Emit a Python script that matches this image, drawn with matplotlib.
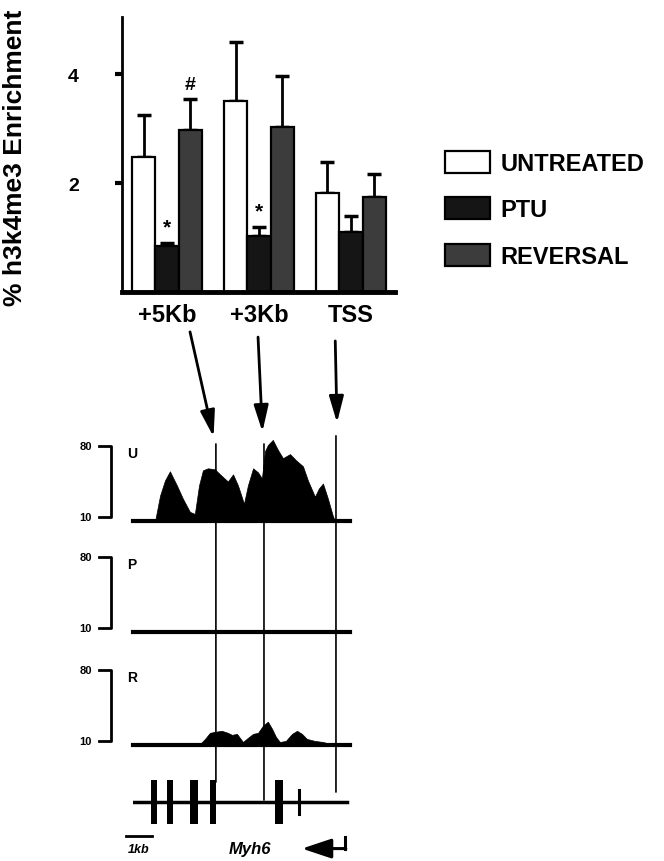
import matplotlib.pyplot as plt
from matplotlib.patches import ConnectionPatch
import numpy as np

plt.rcParams['font.family'] = ['Liberation Sans', 'DejaVu Sans']
plt.rcParams['font.weight'] = 'bold'

# bar chart: % h3k4me3 enrichment
regions = ['+5Kb', '+3Kb', 'TSS']
groups = ['UNTREATED', 'PTU', 'REVERSAL']
untreated = [2.48, 3.50, 1.81]
untreated_err = [0.77, 1.09, 0.57]
ptu = [0.85, 1.03, 1.10]
ptu_err = [0.05, 0.16, 0.29]
reversal = [2.97, 3.03, 1.74]
reversal_err = [0.57, 0.94, 0.43]
ptu_sig = ['*', '*', '']
reversal_sig = ['#', '', '']
bar_colors = ['white', '#151515', '#3c3c3c']

# ChIP-seq tracks (position in kb, read scale 10-80)
u_pos = [0.85, 1.04, 1.23, 1.42, 1.69, 1.92, 2.19, 2.38, 2.54, 2.69, 2.88, 3.15,
         3.35, 3.65, 3.85, 4.04, 4.27, 4.42, 4.62, 4.81, 4.96, 5.08, 5.19, 5.38,
         5.58, 5.77, 6.04, 6.27, 6.54, 6.73, 7.00, 7.15, 7.31, 7.50, 7.69, 7.77]
u_val = [6, 31, 46, 55, 41, 28, 15, 13, 41, 56, 58, 57,
         52, 45, 52, 41, 23, 41, 58, 54, 48, 75, 81, 86,
         76, 68, 72, 66, 60, 46, 30, 38, 43, 28, 11, 6]
p_pos = [0.0, 8.3]
p_val = [6, 6]
r_pos = [1.23, 1.35, 1.92, 2.00, 2.58, 2.77, 2.96, 3.15, 3.42, 3.65, 3.81, 4.00,
         4.23, 4.42, 4.62, 4.81, 5.00, 5.19, 5.35, 5.50, 5.65, 5.88, 6.12, 6.31,
         6.50, 6.69, 7.00, 7.31, 7.58, 7.96]
r_val = [6, 8, 8, 6, 7, 12, 18, 19, 20, 18, 16, 17,
         9, 13, 17, 18, 25, 29, 22, 14, 9, 10, 17, 20,
         17, 12, 10, 9, 7, 6]
track_names = ['U', 'P', 'R']

# Myh6 gene model
mark_kb = [3.19, 5.04, 7.81]      # +5Kb, +3Kb, TSS
exon_kb = [0.81, 1.42, 2.35, 3.08, 5.62]
exon_w = [0.22, 0.25, 0.32, 0.25, 0.32]
small_exon_kb = 6.38
gene_start, gene_end = -0.04, 8.23
tss_arrow_kb = [8.15, 6.50]

W, H = 664, 862
fig = plt.figure(figsize=(W / 100, H / 100), dpi=100)


def px_axes(left, top, right, bottom):
    return fig.add_axes([left / W, 1 - bottom / H, (right - left) / W, (bottom - top) / H])


# ---------------- bar chart ----------------
ax = px_axes(122, 18, 395, 293)
x = np.arange(len(regions))
w = 0.255
bars = []
for i, (vals, err, c) in enumerate(zip([untreated, ptu, reversal],
                                        [untreated_err, ptu_err, reversal_err], bar_colors)):
    xi = x + (i - 1) * w
    b = ax.bar(xi, vals, w, color=c, edgecolor='black', linewidth=1.6, label=groups[i], zorder=2)
    bars.append(b)
    ax.errorbar(xi, vals, yerr=[np.zeros(len(vals)), err], fmt='none', ecolor='black',
                elinewidth=2, capsize=5, capthick=2.5, zorder=1)

for xi, v, e, s in zip(x, ptu, ptu_err, ptu_sig):
    if s:
        ax.text(xi, v + e + 0.12, s, ha='center', va='bottom', fontsize=15)
for xi, v, e, s in zip(x + w, reversal, reversal_err, reversal_sig):
    if s:
        ax.text(xi, v + e + 0.12, s, ha='center', va='bottom', fontsize=14)

ax.set_xlim(-0.49, 2.48)
ax.set_ylim(0, 5.05)
ax.set_yticks([2, 4])
ax.set_yticklabels(['2', '4'], fontsize=14, fontweight='bold')
ax.set_xticks(x)
ax.set_xticklabels(regions, fontsize=17, fontweight='bold')
ax.tick_params(axis='x', length=0, pad=8)
ax.tick_params(axis='y', length=5, width=3, pad=26)
ax.spines['right'].set_visible(False)
ax.spines['top'].set_visible(False)
ax.spines['left'].set_linewidth(2)
ax.spines['bottom'].set_linewidth(3.5)
ax.patch.set_alpha(0)

fig.text(15 / W, 1 - 158 / H, '% h3k4me3 Enrichment', rotation=90, fontsize=19,
         fontweight='bold', ha='center', va='center')

fig.legend(handles=bars, labels=groups, loc='upper left', bbox_to_anchor=(445 / W, 1 - 152 / H),
           frameon=False, fontsize=17, handlelength=1.9, handleheight=1.05,
           handletextpad=0.45, labelspacing=0.95, borderpad=0, borderaxespad=0)

# ---------------- tracks ----------------
track_data = [(u_pos, u_val), (p_pos, p_val), (r_pos, r_val)]
track_bottoms = [522, 633, 746]
track_axes = []
for name, (pos, val), bot in zip(track_names, track_data, track_bottoms):
    t = px_axes(133, bot - 75, 350, bot)
    t.fill_between(pos, val, 6, color='black', linewidth=0.5, clip_on=False)
    t.axhline(6, color='black', linewidth=3, clip_on=False)
    t.set_xlim(0, 8.35)
    t.set_ylim(6, 80)
    t.axis('off')
    tr = t.get_yaxis_transform()
    t.plot([-0.157, -0.101, -0.101, -0.157], [80, 80, 10, 10], color='black',
           linewidth=2, transform=tr, clip_on=False)
    t.text(-0.19, 80, '80', transform=tr, ha='right', va='center', fontsize=8)
    t.text(-0.19, 10, '10', transform=tr, ha='right', va='center', fontsize=8)
    t.text(-0.025, 80, name, transform=tr, ha='left', va='top', fontsize=10)
    track_axes.append(t)

# ---------------- gene model ----------------
g = px_axes(133, 777, 350, 829)
g.set_xlim(0, 8.35)
g.set_ylim(-1.2, 1.2)
g.axis('off')
g.plot([gene_start, gene_end], [0, 0], color='black', linewidth=2.5)
g.bar(exon_kb, 2.0, exon_w, bottom=-1.0, color='black')
g.plot([small_exon_kb, small_exon_kb], [-0.55, 0.55], color='black', linewidth=2.2)
g.plot([-0.27, 0.73], [-1.57, -1.57], color='black', linewidth=2, clip_on=False)
g.text(0.23, -2.15, '1kb', ha='center', va='center', fontsize=9, style='italic', clip_on=False)
g.text(4.5, -2.15, 'Myh6', ha='center', va='center', fontsize=12, style='italic', clip_on=False)
g.plot([tss_arrow_kb[0], tss_arrow_kb[0]], [-1.6, -2.15], color='black', linewidth=2.2, clip_on=False)
g.annotate('', xy=(tss_arrow_kb[1], -2.15), xytext=(tss_arrow_kb[0] + 0.04, -2.15),
           arrowprops=dict(arrowstyle='-|>,head_length=0.9,head_width=0.3', color='black',
                           lw=2.2, shrinkA=0, shrinkB=0, mutation_scale=20),
           annotation_clip=False)

# vertical lines from tracks to gene model
line_top = [82, 82, 90]
line_end = [0.92, 0.09, 0.46]
for xk, yt, ye in zip(mark_kb, line_top, line_end):
    con = ConnectionPatch(xyA=(xk, yt), coordsA=track_axes[0].transData,
                          xyB=(xk, ye), coordsB=g.transData, color='black', linewidth=1.2)
    fig.add_artist(con)

# arrows from region labels to tracks
arrow_start = [(0.25, -0.145), (0.99, -0.164), (1.83, -0.178)]
arrow_tip = [(3.1, 89), (4.98, 94), (7.85, 103)]
for (xs, ys), (xt, yt) in zip(arrow_start, arrow_tip):
    track_axes[0].annotate('', xy=(xt, yt), xytext=(xs, ys), textcoords=ax.get_xaxis_transform(),
                           arrowprops=dict(arrowstyle='-|>,head_length=0.8,head_width=0.22',
                                           color='black', lw=2, shrinkA=0, shrinkB=0,
                                           mutation_scale=20),
                           annotation_clip=False)

fig.savefig('out.png', dpi=100)
